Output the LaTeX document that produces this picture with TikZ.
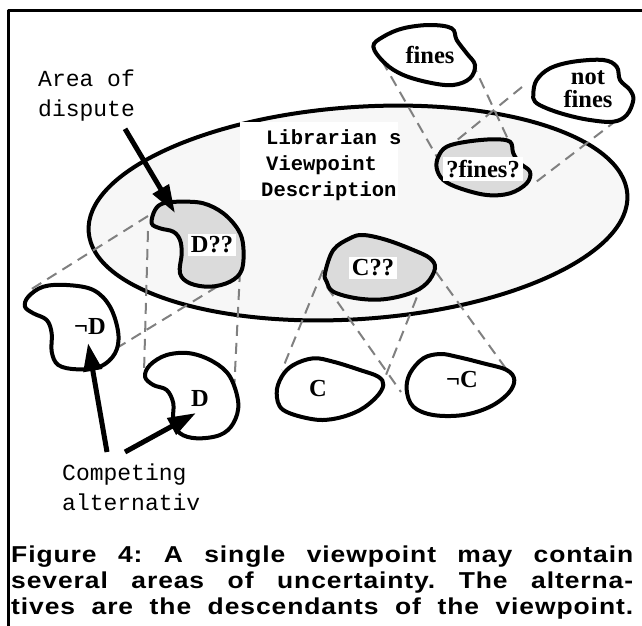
\documentclass[tikz,border=0pt]{standalone}
\usepackage{fontspec}
\setmainfont{Liberation Serif}
\newfontfamily\courier{Liberation Mono}
\newfontfamily\capfont[FakeStretch=1.15,LetterSpace=4]{Liberation Sans}
\usetikzlibrary{arrows.meta}

\begin{document}
\begin{tikzpicture}[x=1pt,y=-1pt,line join=round,
  blob/.style={draw,line width=4pt,fill=white},
  grey blob/.style={blob,fill=black!14},
  link/.style={draw=black!50,line width=2pt,dash pattern=on 11pt off 7pt},
  tag/.style={fill=white,inner xsep=3pt,inner ysep=3pt,font=\fontsize{24.5}{24}\selectfont\bfseries},
  lbl/.style={inner sep=1pt,align=center,font=\fontsize{24.5}{23}\selectfont\bfseries},
  note/.style={inner sep=0pt,align=left,anchor=north west,font=\fontsize{23}{30}\selectfont\courier},
  pointer/.style={line width=5pt,-{Triangle[length=28pt,width=18pt]}}]
  \useasboundingbox (0,0) rectangle (642,625);
  \draw[line width=3pt] (645,10) -- (8,10) -- (8,630);

  \draw[line width=4pt,fill=black!3,rotate around={4:(358,213)}] (358,213) ellipse (270 and 106);

  \coordinate (dq1) at (148,216);
  \coordinate (dq2) at (148,231);
  \coordinate (dq3) at (240,271);
  \coordinate (dq4) at (233,277);
  \coordinate (nd1) at (30,290);
  \coordinate (nd2) at (107,354);
  \coordinate (d1) at (144,372);
  \coordinate (d2) at (233,412);
  \coordinate (cq1) at (323,270);
  \coordinate (cq2) at (327,287);
  \coordinate (cq3) at (430,264);
  \coordinate (cq4) at (436,272);
  \coordinate (c1) at (282,370);
  \coordinate (c2) at (382,385);
  \coordinate (nc1) at (401,392);
  \coordinate (nc2) at (512,377);
  \coordinate (f1) at (373,45);
  \coordinate (f2) at (472,62);
  \coordinate (nf1) at (522,87);
  \coordinate (nf2) at (617,120);
  \coordinate (qf1) at (437,157);
  \coordinate (qf2) at (513,150);
  \coordinate (qf3) at (445,150);
  \coordinate (qf4) at (536,182);
  \draw[link] (dq1) -- (nd1) (dq2) -- (d1) (dq3) -- (d2) (dq4) -- (nd2);
  \draw[link] (cq1) -- (c1) (cq2) -- (nc1) (cq3) -- (c2) (cq4) -- (nc2);
  \draw[link] (f1) -- (qf1) (f2) -- (qf2) (nf1) -- (qf3) (nf2) -- (qf4);

  \draw[grey blob] plot[smooth cycle,tension=0.6] coordinates {(151.7,223.3) (155,210) (163.3,203.3) (180,201.7) (203.3,203.3) (223.3,213.3) (238.3,230) (243.3,246.7) (241.7,270) (230,281.7) (210,286.7) (190,283.3) (180,273.3) (181.7,253.3) (180,240) (173.3,231.7) (160,228.3)};
  \draw[grey blob] plot[smooth cycle,tension=0.6] coordinates {(325,273.3) (333.3,250) (350,238.3) (363.3,235) (386.7,240) (413.3,250) (430,258.3) (435,268.3) (426.7,283.3) (410,293.3) (383.3,299.3) (356.7,298.3) (333.3,291.7) (326.7,281.7)};
  \draw[grey blob] plot[smooth cycle,tension=0.6] coordinates {(438.3,156.7) (446.7,146.7) (466.7,141.7) (493.3,139.3) (510,141.7) (513.3,153.3) (520,163.3) (530,171.7) (526.7,183.3) (510,193.3) (486.7,195) (460,188.3) (443.3,180) (436.7,168.3)};
  \draw[blob] plot[smooth cycle,tension=0.6] coordinates {(373.3,46.7) (383.3,36.7) (403.3,28.3) (430,25) (451.7,28.3) (456.7,40) (466.7,53.3) (475,65) (470,78.3) (453.3,85) (430,82.7) (403.3,75) (385,63.3)};
  \draw[blob] plot[smooth cycle,tension=0.6] coordinates {(533.3,93.3) (536.7,80) (550,68.3) (573.3,61.7) (603.3,60) (616.7,66.7) (620,80) (630,90) (633.3,100) (626.7,115) (613.3,121.7) (590,120) (566.7,115) (546.7,108.3) (535,101.7)};
  \draw[blob] plot[smooth cycle,tension=0.6] coordinates {(25,306.7) (28.3,296.7) (43.3,286.7) (66.7,285) (93.3,290) (110,306.7) (118.3,333.3) (115,353.3) (100,366.7) (76.7,369.3) (58.3,365) (51.7,351.7) (51.7,333.3) (46.7,320) (33.3,313.3)};
  \draw[blob] plot[smooth cycle,tension=0.6] coordinates {(145,376.7) (150,365) (166.7,355) (190,353.3) (213.3,361.7) (230,376.7) (238.3,403.3) (233.3,423.3) (220,435) (196.7,438.3) (180,433.3) (173.3,420) (173.3,403.3) (166.7,390) (153.3,385)};
  \draw[blob] plot[smooth cycle,tension=0.6] coordinates {(276.7,393.3) (281.7,376.7) (293.3,365) (313.3,358.3) (333.3,361.7) (360,370) (378.3,376.7) (383.3,385) (376.7,396.7) (360,410) (336.7,418.3) (313.3,419.3) (283.3,410)};
  \draw[blob] plot[smooth cycle,tension=0.6] coordinates {(406.7,390) (410,373.3) (423.3,358.3) (440,354) (456.7,356.7) (483.3,363.3) (506.7,370) (514.3,380) (508.3,393.3) (490,406.7) (463.3,415) (433.3,415) (413.3,406.7)};

  \fill[white] (240,122) rectangle (398,200);
  \node (lib) [inner sep=0pt,align=left,anchor=north west,font=\fontsize{20.5}{26.5}\selectfont\courier\bfseries] at (266,129) {Librarian s\\Viewpoint\\[-1pt]\hspace*{-5pt}Description};

  \node (dq) [tag] at (212,245) {D??};
  \node (cq) [tag] at (373,268) {C??};
  \node (qf) [tag] at (483,169) {?fines?};
  \node (f) [lbl] at (430,55) {fines};
  \node (nf) [lbl] at (588,89) {not\\fines};
  \node (nd) [lbl] at (90,326) {¬D};
  \node (d) [lbl] at (200,398) {D};
  \node (c) [lbl] at (318,388) {C};
  \node (nc) [lbl] at (462,379) {¬C};

  \node (area) [note] at (38,70) {Area of\\dispute};
  \node (comp) [note] at (62,464) {Competing\\alternativ};
  \coordinate (dqtip) at (175,213);
  \coordinate (ndtip) at (88,343);
  \coordinate (dtip) at (196,413);
  \draw[pointer] (area.south east) ++(-10,7) -- (dqtip);
  \draw[pointer] (comp.north west) ++(45,-12) -- (ndtip);
  \draw[pointer] (comp.north west) ++(63,-12) -- (dtip);

  \node (cap) [inner sep=0pt,anchor=north west,text width=622pt,align=justify,
    font=\fontsize{23}{26}\selectfont\capfont\bfseries] at (11,546)
    {\frenchspacing\parfillskip=0pt Figure 4: A single viewpoint may contain\linebreak several areas of uncertainty. The alterna-\linebreak tives are the descendants of the viewpoint.\par};
\end{tikzpicture}
\end{document}
